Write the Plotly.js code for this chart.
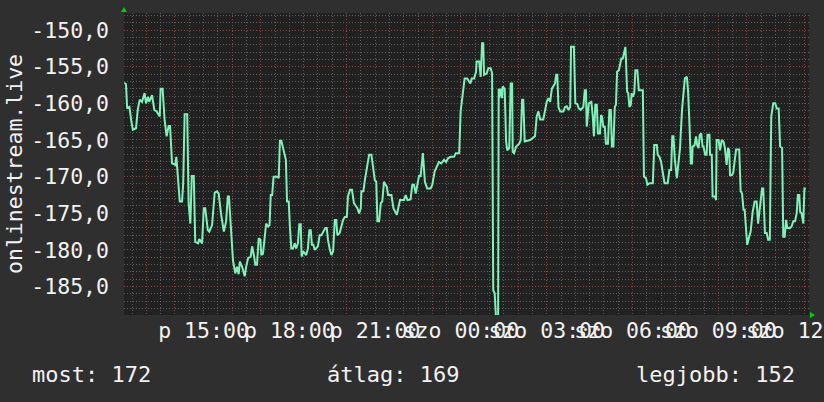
<!DOCTYPE html>
<html><head><meta charset="utf-8">
<script src="https://cdn.plot.ly/plotly-3.0.1.min.js"></script>
<style>html,body{margin:0;padding:0;background:#2f2f2f;}#chart{width:824px;height:402px;}</style>
</head><body><div id="chart"></div>
<script>
// time in hours since Friday 00:00
const hours = [12.23,12.29,12.33,12.41,12.47,12.53,12.64,12.70,12.77,12.85,12.94,12.99,13.06,13.10,13.20,13.28,13.36,13.43,13.47,13.50,13.57,13.64,13.71,13.78,13.83,13.85,13.90,13.97,14.01,14.05,14.11,14.17,14.25,14.29,14.34,14.43,14.48,14.54,14.59,14.66,14.71,14.81,14.85,14.95,15.01,15.06,15.15,15.20,15.30,15.39,15.47,15.53,15.61,15.65,15.71,15.79,15.85,15.89,15.95,16.03,16.11,16.17,16.23,
16.27,16.35,16.44,16.49,16.56,16.65,16.70,16.77,16.81,16.87,16.93,16.99,17.02,17.08,17.14,17.19,17.26,17.31,17.35,17.40,17.45,17.58,17.63,17.67,17.72,17.78,17.84,17.88,17.92,17.98,18.02,18.07,18.13,18.19,18.24,18.30,18.35,18.40,18.43,18.49,18.59,18.65,18.70,18.75,18.79,18.84,18.89,19.00,19.06,19.12,19.19,19.26,19.31,19.35,19.41,19.47,19.53,19.59,19.64,19.68,19.76,19.82,19.88,19.94,20.01,20.05,20.12,20.19,20.26,
20.31,20.38,20.44,20.50,20.52,20.59,20.64,20.71,20.79,20.87,20.93,20.99,21.04,21.08,21.14,21.20,21.25,21.31,21.41,21.45,21.57,21.64,21.76,21.81,21.87,22.01,22.07,22.13,22.24,22.30,22.36,22.42,22.54,22.59,22.67,22.74,22.82,22.94,23.00,23.08,23.15,23.23,23.31,23.41,23.48,23.55,23.64,23.76,23.82,23.94,23.99,24.07,24.13,24.22,24.28,
24.33,24.38,24.46,24.53,24.55,24.64,24.69,24.74,24.78,24.81,24.90,24.96,25.04,25.09,25.13,25.18,25.23,25.30,25.32,25.34,25.39,25.44,25.46,25.53,25.58,25.62,25.69,25.74,25.79,25.81,25.86,25.93,26.04,26.09,26.14,26.18,26.23,26.42,26.59,26.65,26.71,26.77,26.88,26.94,27.00,27.06,27.12,27.18,27.23,27.29,27.33,27.37,27.41,27.47,27.58,27.64,27.70,27.76,27.82,27.85,27.95,28.00,28.07,28.12,28.19,28.28,28.33,28.37,28.40,
28.47,28.56,28.61,28.65,28.70,28.75,28.79,28.86,28.90,28.93,28.98,29.03,29.07,29.14,29.19,29.24,29.28,29.33,29.38,29.42,29.46,29.52,29.56,29.61,29.66,29.70,29.75,29.77,29.81,29.85,29.89,29.94,29.97,30.01,30.06,30.10,30.17,30.22,30.36,30.40,30.47,30.52,30.59,30.71,30.76,30.85,30.88,30.94,31.00,31.06,31.12,31.23,31.29,31.35,31.39,31.43,31.48,31.55,31.60,31.66,31.73,31.78,31.83,31.90,31.94,31.99,32.04,32.08,32.10,32.17,32.22,32.26,32.31,32.35,32.40,32.45,
32.48,32.54,32.59,32.62,32.69,32.71,32.77,32.80,32.88,32.92,32.94,33.01,33.06,33.12,33.18,33.23,33.29,33.34,33.38,33.41,33.47,33.52,33.58,33.62,33.73,33.78,33.83,33.88,33.92,33.97,34.01,34.08,34.13,34.20,34.27,34.34,34.39,34.43,34.48,34.53,34.57,34.63,34.69,34.74,34.80,34.85,34.92,34.99,35.04,35.11,35.16,35.23,35.27,35.32,35.37,35.41,35.51,35.56,35.62,35.68,35.74,35.78,35.83,35.86,35.91,35.97,36.01,36.06];
const values = [-157.2,-157.4,-160.7,-160.5,-162.3,-163.6,-163.4,-160.9,-159.5,-159.8,-158.6,-160.0,-159.1,-159.8,-158.9,-160.9,-161.1,-161.6,-161.8,-158.0,-158.0,-162.3,-164.5,-163.1,-163.1,-164.5,-168.2,-168.3,-168.4,-167.3,-170.9,-173.4,-173.4,-170.9,-161.5,-161.5,-173.6,-176.4,-169.9,-169.9,-178.9,-179.1,-178.5,-179.1,-174.3,-174.3,-177.3,-177.5,-176.6,-172.2,-172.0,-172.3,-175.0,-176.1,-177.5,-176.1,-172.7,-172.7,-176.1,-181.4,-183.2,-182.3,-183.3,
-181.6,-182.3,-183.6,-182.3,-181.1,-180.9,-179.5,-180.9,-182.0,-182.0,-178.4,-178.6,-180.7,-180.5,-178.2,-176.4,-176.8,-176.6,-172.5,-172.5,-170.0,-170.0,-170.2,-165.1,-165.1,-166.1,-167.3,-167.7,-173.4,-173.4,-176.8,-179.8,-179.8,-179.1,-179.8,-179.1,-176.5,-176.5,-180.9,-180.2,-180.7,-179.8,-177.3,-177.3,-179.3,-179.3,-180.0,-179.5,-178.0,-178.0,-177.5,-177.0,-177.0,-178.6,-179.8,-180.7,-180.2,-175.9,-175.9,-178.0,-177.7,-176.6,-175.9,-175.5,-175.5,-172.7,-171.8,-171.8,-173.6,
-173.9,-174.3,-175.0,-174.3,-172.0,-172.0,-170.5,-168.9,-167.0,-167.0,-168.9,-170.5,-170.7,-176.1,-176.1,-173.6,-173.4,-170.7,-171.4,-172.5,-172.5,-174.3,-175.2,-174.3,-173.2,-173.2,-172.5,-173.2,-173.1,-171.1,-171.1,-172.3,-169.8,-170.0,-166.8,-170.7,-171.6,-171.6,-171.1,-169.3,-168.6,-168.0,-168.2,-167.7,-168.0,-167.5,-167.3,-167.3,-166.8,-166.8,-161.1,-158.6,-156.6,-156.6,-157.0,
-157.3,-156.6,-156.6,-155.7,-154.3,-154.3,-156.4,-151.8,-151.8,-156.1,-155.9,-155.2,-155.2,-155.9,-185.5,-185.9,-189.5,-189.5,-158.0,-159.3,-158.0,-159.3,-157.7,-158.0,-165.2,-166.4,-166.1,-157.3,-157.3,-166.6,-166.8,-165.9,-165.5,-165.0,-159.5,-159.5,-165.2,-165.0,-164.5,-161.8,-161.1,-162.2,-162.2,-161.1,-159.8,-159.3,-159.8,-158.0,-157.7,-157.3,-156.1,-156.1,-160.5,-161.1,-161.1,-160.5,-160.4,-160.9,-160.5,-152.3,-152.3,-160.0,-160.1,-160.7,-160.9,-160.5,-158.2,-158.2,-163.2,
-160.0,-159.8,-161.8,-164.5,-160.2,-160.2,-164.1,-164.1,-161.6,-161.8,-163.2,-163.2,-165.5,-165.5,-160.9,-160.9,-165.9,-165.9,-160.5,-160.2,-155.7,-155.5,-154.8,-153.9,-153.9,-153.2,-152.3,-154.1,-158.4,-158.6,-160.5,-160.2,-158.6,-159.1,-158.6,-155.5,-155.5,-158.2,-158.2,-170.0,-170.2,-171.1,-170.9,-170.9,-165.7,-165.7,-167.0,-167.3,-168.0,-169.5,-170.9,-170.9,-169.1,-169.1,-164.5,-164.5,-167.7,-170.2,-168.4,-166.1,-160.9,-158.4,-156.6,-156.4,-158.2,-162.7,-168.2,-168.2,-165.9,-165.7,-164.5,-165.7,-166.1,-164.3,-164.1,-165.9,
-165.9,-167.0,-167.0,-164.3,-164.3,-167.0,-167.0,-172.7,-172.7,-173.2,-165.0,-165.0,-166.4,-165.0,-165.2,-166.1,-168.4,-166.1,-166.4,-169.8,-169.8,-169.5,-167.3,-166.3,-166.3,-172.0,-172.3,-174.5,-174.5,-177.5,-179.3,-178.2,-177.5,-174.8,-173.4,-173.4,-176.4,-175.0,-173.2,-171.6,-171.6,-177.7,-177.7,-178.6,-178.6,-161.8,-160.0,-160.0,-160.7,-160.7,-165.9,-166.1,-178.2,-178.2,-175.9,-177.0,-177.0,-176.8,-176.1,-176.1,-175.0,-172.5,-172.5,-174.8,-175.0,-176.4,-171.6,-171.6];

const seriesName = 'onlinestream.live';
const yTickValues = [-150,-155,-160,-165,-170,-175,-180,-185];
const yTickLabels = ['-150,0','-155,0','-160,0','-165,0','-170,0','-175,0','-180,0','-185,0'];
const xLabelHours = [15,18,21,24,27,30,33,36];
const xLabels = ['p 15:00','p 18:00','p 21:00','szo 00:00','szo 03:00','szo 06:00','szo 09:00','szo 12:00'];
const statLabels = ['most','átlag','legjobb'];
const statValues = [172,169,152];

const FONT = 'DejaVu Sans Mono';
const TXT = '#f2f2f2';
const RED = 'rgba(170,50,50,0.5)';
const GRAY = 'rgba(120,120,120,0.7)';

const gridHours = [];
for (let h = 13; h <= 36; h++) gridHours.push(h);
const gridText = gridHours.map(h => { const i = xLabelHours.indexOf(h); return i >= 0 ? xLabels[i] : ''; });

const trace = {
  x: hours, y: values, type: 'scatter', mode: 'lines', name: seriesName,
  line: {color: '#7ef2b8', width: 2, shape: 'linear'}, hoverinfo: 'skip'
};

const statX = [33, 328, 637];
const annotations = statLabels.map((l, i) => ({
  text: l + ': ' + statValues[i], showarrow: false, xref: 'paper', yref: 'paper',
  x: (statX[i] - 124 - 3) / 685, y: (315 - 374) / 302, xanchor: 'left', yanchor: 'middle',
  font: {family: FONT, size: 22, color: TXT}
}));
annotations.push({
  text: seriesName, showarrow: false, xref: 'paper', yref: 'paper', textangle: -90,
  x: (14 - 124) / 685, y: (315 - 164) / 302, xanchor: 'center', yanchor: 'middle',
  font: {family: FONT, size: 21.5, color: TXT}
});

const layout = {
  width: 824, height: 402,
  margin: {l: 124, r: 15, t: 13, b: 87},
  paper_bgcolor: '#2f2f2f', plot_bgcolor: '#212121',
  showlegend: false,
  xaxis: {
    range: [12.22, 36.17], tickmode: 'array', tickvals: gridHours, ticktext: gridText,
    tickangle: 0, ticklabeloverflow: 'allow',
    showgrid: true, gridcolor: RED, griddash: '1px,2px', gridwidth: 1,
    ticks: '', ticklabelstandoff: 0,
    minor: {tickmode: 'linear', tick0: 0, dtick: 0.5, showgrid: true, gridcolor: GRAY, griddash: '1px,2px', ticks: ''},
    zeroline: false, showline: false, fixedrange: true,
    tickfont: {family: FONT, size: 21.5, color: TXT}
  },
  yaxis: {
    range: [-188.87, -147.68], tickmode: 'array', tickvals: yTickValues, ticktext: yTickLabels,
    showgrid: true, gridcolor: RED, griddash: '1px,2px', gridwidth: 1,
    ticks: '', ticklabelstandoff: 14,
    minor: {tickmode: 'linear', tick0: 0, dtick: 1, showgrid: true, gridcolor: GRAY, griddash: '1px,2px'},
    zeroline: false, showline: false, fixedrange: true,
    tickfont: {family: FONT, size: 21.5, color: TXT}
  },
  annotations: annotations,
  shapes: [
    {type: 'path', xref: 'paper', yref: 'paper', path: 'M -0.0044 1.003 L 0.0044 1.003 L 0 1.02 Z', fillcolor: '#00d000', line: {width: 0}},
    {type: 'path', xref: 'paper', yref: 'paper', path: 'M 1.0015 -0.0099 L 1.0015 0.0099 L 1.0088 0 Z', fillcolor: '#00d000', line: {width: 0}}
  ]
};

Plotly.newPlot('chart', [trace], layout, {displayModeBar: false, staticPlot: true});
</script>
</body></html>
